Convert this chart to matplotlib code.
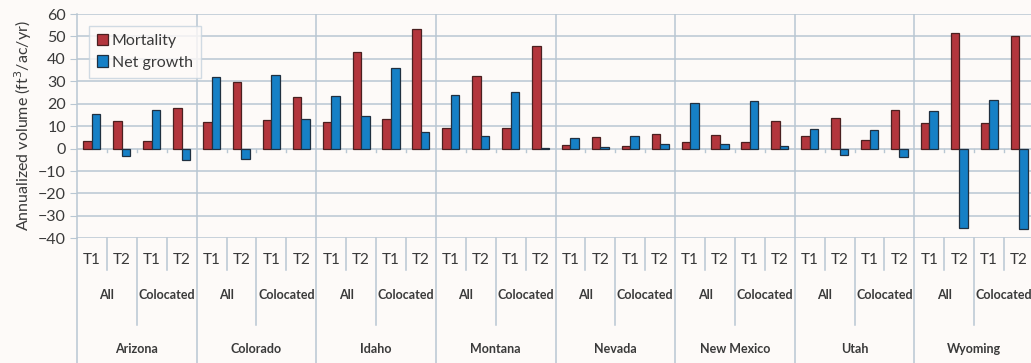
#!/usr/bin/env python3
"""
Mortality vs net growth by state, plot group and inventory period.
"""

import matplotlib
matplotlib.use('Agg')
import matplotlib.pyplot as plt
import matplotlib.transforms as mtransforms
import numpy as np

states = ['Arizona', 'Colorado', 'Idaho', 'Montana', 'Nevada', 'New Mexico', 'Utah', 'Wyoming']
groups = ['All', 'Colocated']
periods = ['T1', 'T2']

# one value per (state, group, period), in that order
mortality = [3.3, 12.5, 3.3, 18.3,
             12.0, 29.9, 12.9, 22.9,
             11.9, 42.9, 13.1, 53.4,
             9.1, 32.4, 9.1, 45.8,
             1.5, 5.2, 1.3, 6.7,
             3.0, 6.1, 3.0, 12.1,
             5.8, 13.7, 4.0, 17.1,
             11.5, 51.5, 11.5, 50.3]
net_growth = [15.6, -3.1, 17.1, -5.2,
              31.8, -4.6, 32.9, 13.1,
              23.4, 14.7, 35.9, 7.3,
              24.1, 5.5, 25.3, 0.4,
              4.8, 0.6, 5.5, 1.9,
              20.4, 2.2, 21.3, 1.2,
              8.9, -2.7, 8.5, -3.7,
              16.8, -35.4, 21.6, -36.0]

plt.rcParams['font.family'] = ['Lato', 'DejaVu Sans']

W, H = 1031, 363
BG = '#fdfaf8'
GRID = '#b9c7d3'
TXT = '#3a3a3a'
RED = '#b3363d'
BLUE = '#1680c6'

fig = plt.figure(figsize=(W / 100, H / 100), dpi=100, facecolor=BG)
ax = fig.add_axes([77 / W, (H - 238.3) / H, (1034 - 77) / W, (238.3 - 14) / H])
ax.set_facecolor(BG)

n = len(mortality)
x = np.arange(n) + 0.5
bw = 0.285
ax.bar(x - bw / 2, mortality, bw, color=RED, edgecolor='#4a2020', linewidth=0.9,
       label='Mortality', zorder=3)
ax.bar(x + bw / 2, net_growth, bw, color=BLUE, edgecolor='#203040', linewidth=0.9,
       label='Net growth', zorder=3)

ax.set_xlim(0, n)
ax.set_ylim(-40, 60)
ax.set_yticks(np.arange(-40, 61, 10))
ax.set_xticks([])
ax.yaxis.grid(True, color=GRID, linewidth=1.1, zorder=0)
ax.tick_params(axis='y', length=5, color=GRID, labelsize=11.5, labelcolor=TXT, pad=3)
for s in ['top', 'right', 'bottom']:
    ax.spines[s].set_visible(False)
ax.spines['left'].set_color(GRID)
ax.spines['left'].set_linewidth(1.1)

ax.set_ylabel('Annualized volume (ft$^3$/ac/yr)', fontsize=11.5, color=TXT, labelpad=3)

# small category ticks just below the zero line
for b in range(1, n):
    if b % 4:
        ax.plot([b, b], [0, -1.6], color=GRID, linewidth=1, zorder=1)

# state separators through the plot area
for b in range(4, n, 4):
    ax.axvline(b, color=GRID, linewidth=1.1, zorder=1)

# multi-level category axis below the plot
trans = mtransforms.blended_transform_factory(ax.transData, fig.transFigure)
def fy(py):
    return 1 - py / H

for b in range(0, n + 1):
    if b % 4 == 0:
        y_end = H
    elif b % 2 == 0:
        y_end = 325
    else:
        y_end = 270
    ax.plot([b, b], [fy(238.3), fy(y_end)], transform=trans, color=GRID,
            linewidth=1.1, clip_on=False)

for i in range(n):
    ax.text(i + 0.5, fy(260), periods[i % 2], transform=trans, ha='center', va='center',
            fontsize=11, color=TXT)
for j in range(n // 2):
    ax.text(2 * j + 1, fy(295), groups[j % 2], transform=trans, ha='center', va='center',
            fontsize=9, fontweight='bold', color=TXT)
for k, st in enumerate(states):
    ax.text(4 * k + 2, fy(349), st, transform=trans, ha='center', va='center',
            fontsize=9, fontweight='bold', color=TXT)

leg = ax.legend(loc='upper left', bbox_to_anchor=(0.004, 0.982), fontsize=11.5,
                frameon=True, fancybox=False, handlelength=0.7, handleheight=0.7,
                handletextpad=0.25, borderpad=0.5, labelspacing=0.45, labelcolor=TXT)
leg.get_frame().set_edgecolor('#c5d3de')
leg.get_frame().set_facecolor(BG)
leg.get_frame().set_linewidth(1.0)

fig.savefig('out.png', dpi=100, facecolor=BG)
